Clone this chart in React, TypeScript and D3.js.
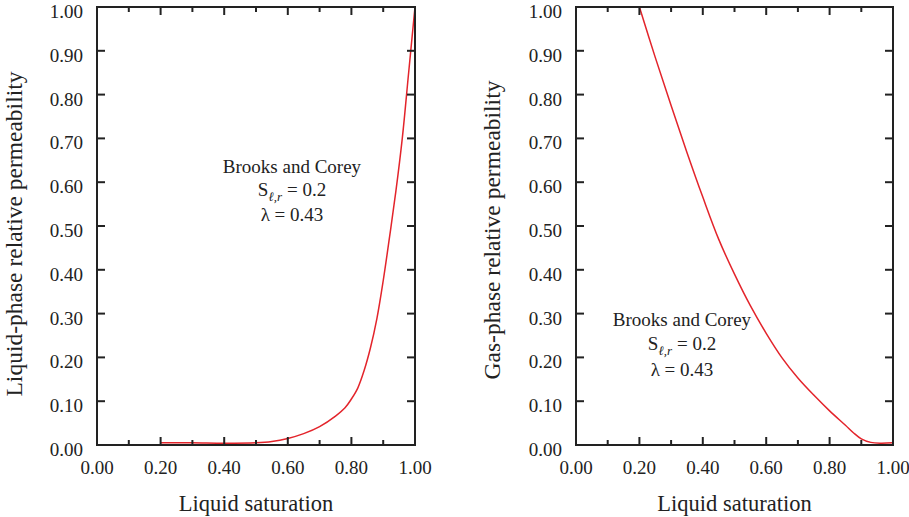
import React from "react";
import * as d3 from "d3";

const liquidSat = [0.2, 0.3, 0.4, 0.5, 0.55, 0.6, 0.65, 0.7, 0.75, 0.78, 0.8, 0.82, 0.84, 0.86, 0.88, 0.9, 0.92, 0.94, 0.96, 0.98, 1.0];
const liquidKr = [0.005, 0.005, 0.004, 0.005, 0.008, 0.015, 0.026, 0.042, 0.066, 0.085, 0.105, 0.13, 0.17, 0.222, 0.288, 0.375, 0.475, 0.58, 0.7, 0.85, 1.0];

const gasSat = [0.2, 0.25, 0.3, 0.35, 0.4, 0.45, 0.5, 0.55, 0.6, 0.65, 0.7, 0.75, 0.8, 0.85, 0.875, 0.9, 0.93, 0.96, 1.0];
const gasKr = [1.0, 0.885, 0.775, 0.668, 0.566, 0.47, 0.39, 0.318, 0.255, 0.199, 0.153, 0.114, 0.078, 0.045, 0.028, 0.014, 0.006, 0.004, 0.005];

const xTickValues = [0, 0.2, 0.4, 0.6, 0.8, 1.0];
const xMinorValues = [0.1, 0.3, 0.5, 0.7, 0.9];
const yTickValues = [0, 0.1, 0.2, 0.3, 0.4, 0.5, 0.6, 0.7, 0.8, 0.9, 1.0];

const xTitle = "Liquid saturation";
const yTitles = ["Liquid-phase relative permeability", "Gas-phase relative permeability"];
const annoTitle = "Brooks and Corey";
const annoS = "0.2";
const annoLambda = "0.43";

const FONT = "'Liberation Serif', 'Times New Roman', 'DejaVu Serif', serif";
const TEXT = "#222";
const RED = "#e3242b";

type PanelProps = {
  x0: number;
  x1: number;
  sat: number[];
  kr: number[];
  yTitle: string;
  titleX: number;
  titleY: number;
  anno: { x: number; lines: number[] };
};

function Panel({ x0, x1, sat, kr, yTitle, titleX, titleY, anno }: PanelProps) {
  const top = 7;
  const bottom = 445;
  const x = d3.scaleLinear().domain([0, 1]).range([x0, x1]);
  const y = d3.scaleLinear().domain([0, 1]).range([bottom, top]);
  const data = sat.map((s, i) => [s, kr[i]] as [number, number]);
  const line = d3
    .line<[number, number]>()
    .x((d) => x(d[0]))
    .y((d) => y(d[1]))
    .curve(d3.curveCatmullRom.alpha(0.5));
  const fmt = d3.format(".2f");
  const major = 8;
  const minor = 5;
  return (
    <g>
      <path d={line(data) || ""} fill="none" stroke={RED} strokeWidth={1.5} />
      {xTickValues.map((v) => (
        <g key={"xm" + v}>
          <line x1={x(v)} x2={x(v)} y1={bottom} y2={bottom - major} stroke={TEXT} strokeWidth={2} />
          <line x1={x(v)} x2={x(v)} y1={top} y2={top + major} stroke={TEXT} strokeWidth={2} />
          <text x={x(v)} y={474} textAnchor="middle" fontSize={19} fontFamily={FONT} fill={TEXT}>
            {fmt(v)}
          </text>
        </g>
      ))}
      {xMinorValues.map((v) => (
        <g key={"xn" + v}>
          <line x1={x(v)} x2={x(v)} y1={bottom} y2={bottom - minor} stroke={TEXT} strokeWidth={2} />
          <line x1={x(v)} x2={x(v)} y1={top} y2={top + minor} stroke={TEXT} strokeWidth={2} />
        </g>
      ))}
      {yTickValues.map((v) => (
        <g key={"y" + v}>
          <line x1={x0} x2={x0 + major} y1={y(v)} y2={y(v)} stroke={TEXT} strokeWidth={2} />
          <line x1={x1} x2={x1 - major} y1={y(v)} y2={y(v)} stroke={TEXT} strokeWidth={2} />
          <text x={x0 - 14} y={y(v) + 11} textAnchor="end" fontSize={19} fontFamily={FONT} fill={TEXT}>
            {fmt(v)}
          </text>
        </g>
      ))}
      <rect x={x0} y={top} width={x1 - x0} height={bottom - top} fill="none" stroke={TEXT} strokeWidth={2} />
      <text x={(x0 + x1) / 2} y={511} textAnchor="middle" fontSize={22.5} fontFamily={FONT} fill={TEXT}>
        {xTitle}
      </text>
      <text
        transform={`translate(${titleX},${titleY}) rotate(-90)`}
        textAnchor="middle"
        fontSize={23.5}
        fontFamily={FONT}
        fill={TEXT}
      >
        {yTitle}
      </text>
      <text x={anno.x} y={anno.lines[0]} textAnchor="middle" fontSize={19} fontFamily={FONT} fill={TEXT}>
        {annoTitle}
      </text>
      <text x={anno.x} y={anno.lines[1]} textAnchor="middle" fontSize={19} fontFamily={FONT} fill={TEXT}>
        S
        <tspan fontSize={13} fontStyle="italic" dy={5}>
          ℓ,r
        </tspan>
        <tspan dy={-5}>{" = " + annoS}</tspan>
      </text>
      <text x={anno.x} y={anno.lines[2]} textAnchor="middle" fontSize={19} fontFamily={FONT} fill={TEXT}>
        {"λ = " + annoLambda}
      </text>
    </g>
  );
}

export default function App() {
  return (
    <svg width={909} height={517} style={{ position: "absolute", left: 0, top: 0, background: "#fff" }}>
      <Panel
        x0={97}
        x1={415}
        sat={liquidSat}
        kr={liquidKr}
        yTitle={yTitles[0]}
        titleX={22}
        titleY={234}
        anno={{ x: 292, lines: [173, 196, 221] }}
      />
      <Panel
        x0={576}
        x1={893}
        sat={gasSat}
        kr={gasKr}
        yTitle={yTitles[1]}
        titleX={500}
        titleY={230}
        anno={{ x: 682, lines: [326, 350, 376] }}
      />
    </svg>
  );
}
